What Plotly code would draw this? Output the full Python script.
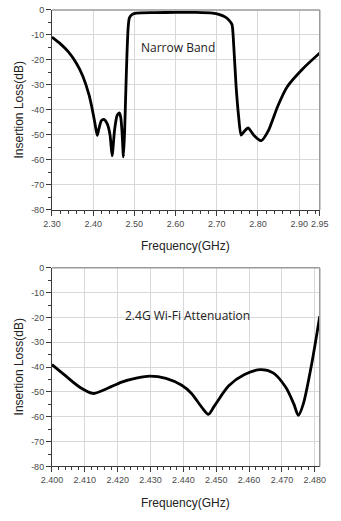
import plotly.graph_objects as go

# Narrow-band filter response, 2.30-2.95 GHz
freq_nb = [2.300, 2.320, 2.340, 2.360, 2.375, 2.390, 2.400, 2.405, 2.410, 2.414,
           2.420, 2.426, 2.434, 2.441, 2.446, 2.452, 2.458, 2.4635, 2.467, 2.470,
           2.4735, 2.4765, 2.479, 2.482, 2.485, 2.488, 2.495, 2.505, 2.550, 2.600,
           2.650, 2.690, 2.705, 2.720, 2.730, 2.737, 2.741, 2.747, 2.753, 2.759,
           2.767, 2.776, 2.791, 2.808, 2.825, 2.848, 2.871, 2.909, 2.950]
loss_nb = [-10.9, -13.5, -16.8, -21.5, -26.5, -34.0, -41.5, -46.0, -50.2, -47.5,
           -44.3, -43.8, -45.5, -50.0, -58.3, -48.0, -42.3, -41.2, -43.0, -48.5,
           -58.8, -48.0, -34.0, -18.0, -7.0, -3.2, -1.8, -1.3, -1.1, -1.0,
           -1.0, -1.3, -1.8, -2.8, -4.2, -5.8, -13.7, -30.7, -42.5, -50.1,
           -48.5, -47.2, -50.3, -52.3, -48.4, -38.5, -30.7, -23.5, -17.2]

# Attenuation across the 2.4 GHz Wi-Fi band
freq_wifi = [2.4000, 2.4037, 2.4086, 2.4125, 2.4163, 2.4212, 2.4260, 2.4298,
             2.4347, 2.4395, 2.4424, 2.4455, 2.4476, 2.4495, 2.4538, 2.4586,
             2.4634, 2.4673, 2.4712, 2.4736, 2.4750, 2.4765, 2.4790, 2.4815]
loss_wifi = [-39.0, -43.0, -48.2, -50.6, -48.9, -46.0, -44.3, -43.6,
             -44.5, -47.3, -50.5, -56.0, -59.0, -55.5, -47.5, -43.0,
             -41.0, -42.3, -48.2, -54.8, -59.4, -54.8, -39.0, -19.5]

nb_ticks = [2.30, 2.40, 2.50, 2.60, 2.70, 2.80, 2.90, 2.95]
nb_labels = ["2.30", "2.40", "2.50", "2.60", "2.70", "2.80", "2.90", "2.95"]
wifi_ticks = [2.400, 2.410, 2.420, 2.430, 2.440, 2.450, 2.460, 2.470, 2.480]
wifi_labels = ["2.400", "2.410", "2.420", "2.430", "2.440", "2.450", "2.460", "2.470", "2.480"]
db_ticks = [0, -10, -20, -30, -40, -50, -60, -70, -80]

W, H = 341, 521
X0, X1 = 43.5, 328.0
TOP_Y0, TOP_Y1 = 5.0, 209.0
BOT_Y0, BOT_Y1 = 268.0, 470.5

fig = go.Figure()
fig.add_trace(go.Scatter(x=freq_nb, y=loss_nb, mode="lines",
                         line=dict(color="black", width=2.8, shape="spline", smoothing=0.6),
                         xaxis="x", yaxis="y", showlegend=False))
fig.add_trace(go.Scatter(x=freq_wifi, y=loss_wifi, mode="lines",
                         line=dict(color="black", width=2.8, shape="spline", smoothing=0.8),
                         xaxis="x2", yaxis="y2", showlegend=False))

tickfont = dict(family="Liberation Sans", size=9, color="#4a4a4a")
grid = "#d8d8d8"
axline = "#3a3a3a"
tickcol = "#3a3a3a"

common_x = dict(domain=[X0 / W, X1 / W], showgrid=True, gridcolor=grid, gridwidth=1,
                showline=True, linecolor=axline, linewidth=1, mirror=False,
                ticks="outside", ticklen=5, tickcolor=tickcol, tickfont=tickfont,
                zeroline=False, fixedrange=True)
common_y = dict(showgrid=True, gridcolor=grid, gridwidth=1,
                showline=True, linecolor=axline, linewidth=1, mirror=False,
                ticks="outside", ticklen=5, tickcolor=tickcol, tickfont=tickfont,
                zeroline=False, range=[-80, 0], tickvals=db_ticks,
                ticktext=[str(v) for v in db_ticks],
                minor=dict(dtick=5, tick0=0, ticks="outside", ticklen=3,
                           tickcolor=tickcol, showgrid=False),
                fixedrange=True)

fig.update_layout(
    width=W, height=H,
    margin=dict(l=0, r=0, t=0, b=0),
    paper_bgcolor="white", plot_bgcolor="white",
    xaxis=dict(common_x, anchor="y", range=[2.30, 2.95], tickvals=nb_ticks,
               ticktext=nb_labels,
               minor=dict(tick0=2.30, dtick=0.02, ticks="outside", ticklen=3,
                          tickcolor=tickcol, showgrid=False)),
    yaxis=dict(common_y, anchor="x",
               domain=[1 - TOP_Y1 / H, 1 - TOP_Y0 / H]),
    xaxis2=dict(common_x, anchor="y2", range=[2.400, 2.4815], tickvals=wifi_ticks,
                ticktext=wifi_labels,
                minor=dict(tick0=2.400, dtick=0.002, ticks="outside", ticklen=3,
                           tickcolor=tickcol, showgrid=False)),
    yaxis2=dict(common_y, anchor="x2",
                domain=[1 - BOT_Y1 / H, 1 - BOT_Y0 / H]),
)

# Lighter frame along the top and right of each plot area
frame = dict(color="#9a9a9a", width=1.5)
for xr, yr in (("x domain", "y domain"), ("x2 domain", "y2 domain")):
    fig.add_shape(type="line", xref=xr, yref=yr, x0=0, x1=1, y0=1, y1=1, line=frame)
    fig.add_shape(type="line", xref=xr, yref=yr, x0=1, x1=1, y0=0, y1=1, line=frame)

title_font = dict(family="Liberation Sans", size=12, color="#222222")
label_font = dict(family="Open Sans", size=12, color="#222222")

annotations = [
    dict(text="Frequency(GHz)", x=185 / W, y=1 - 246 / H, xref="paper", yref="paper",
         showarrow=False, font=title_font, xanchor="center", yanchor="middle"),
    dict(text="Frequency(GHz)", x=185 / W, y=1 - 508 / H, xref="paper", yref="paper",
         showarrow=False, font=title_font, xanchor="center", yanchor="middle"),
    dict(text="Insertion Loss(dB)", x=8 / W, y=1 - 107 / H, xref="paper", yref="paper",
         showarrow=False, font=title_font, textangle=-90, xanchor="center", yanchor="middle"),
    dict(text="Insertion Loss(dB)", x=8 / W, y=1 - 369 / H, xref="paper", yref="paper",
         showarrow=False, font=title_font, textangle=-90, xanchor="center", yanchor="middle"),
    dict(text="Narrow Band", x=177 / W, y=1 - 43.5 / H, xref="paper", yref="paper",
         showarrow=False, font=label_font, xanchor="center", yanchor="middle"),
    dict(text="2.4G Wi-Fi Attenuation", x=187 / W, y=1 - 316.5 / H, xref="paper", yref="paper",
         showarrow=False, font=label_font, xanchor="center", yanchor="middle"),
]
fig.update_layout(annotations=annotations)

fig.write_html("out.html")
